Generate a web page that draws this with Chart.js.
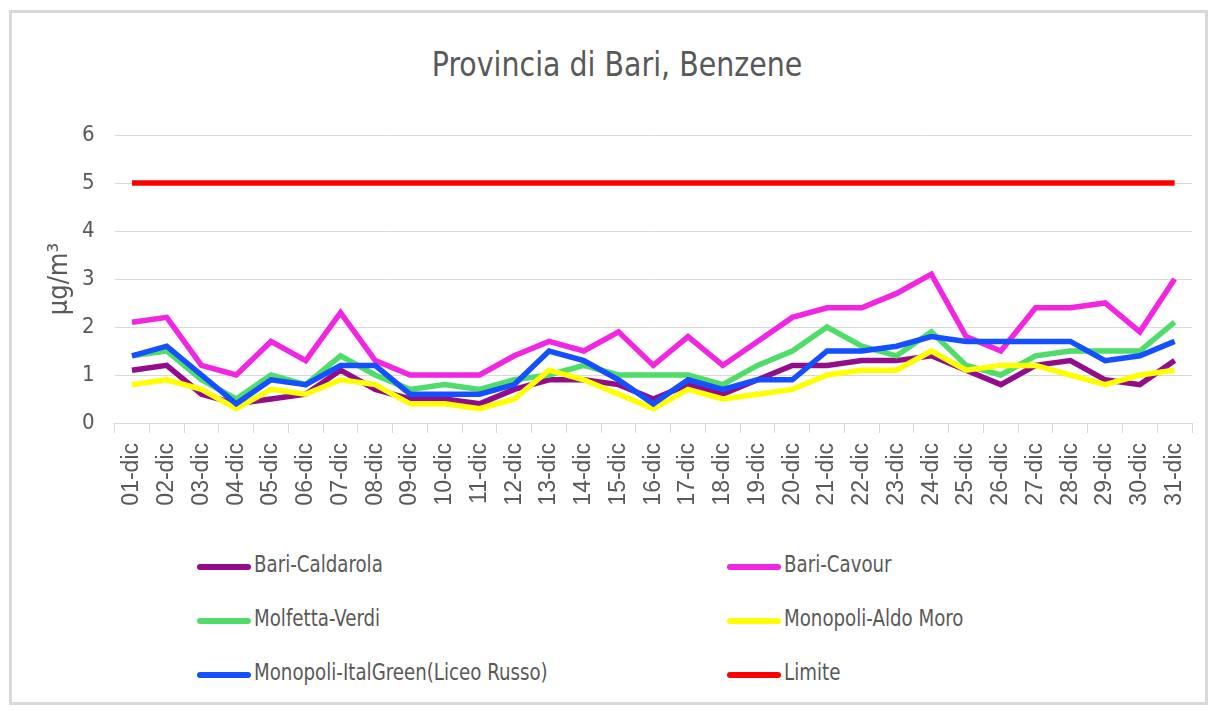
<!DOCTYPE html>
<html>
<head>
<meta charset="utf-8">
<script src="https://cdn.jsdelivr.net/npm/chart.js@4/dist/chart.umd.min.js"></script>
<style>
  body { margin: 0; background: #fff; width: 1214px; height: 711px; overflow: hidden; position: relative; }
  #frame { position: absolute; left: 9px; top: 10px; width: 1193px; height: 689px; border: 3px solid #d9d9d9; }
  #title { position: absolute; left: 10px; top: 44px; width: 1214px; text-align: center;
    font-family: "DejaVu Sans Condensed", sans-serif; font-size: 34px; color: #595959;
    transform: scaleX(0.93); transform-origin: 607px 0; }
  #chart { position: absolute; left: 0; top: 0; }
  .leg { position: absolute; height: 30px; font-family: "DejaVu Sans Condensed", sans-serif;
    font-size: 23px; color: #595959; white-space: nowrap; }
  .leg span.ln { position: absolute; left: 0; top: 13px; width: 54px; height: 6px; border-radius: 3px; }
  .leg span.tx { position: absolute; left: 57px; top: 0; transform: scaleX(0.88); transform-origin: 0 0; }
</style>
</head>
<body>
<div id="frame"></div>
<div id="title">Provincia di Bari, Benzene</div>
<canvas id="chart" width="1214" height="540"></canvas>
<div id="legend"></div>
<script>
// giorni di dicembre
const giorni = ["01-dic","02-dic","03-dic","04-dic","05-dic","06-dic","07-dic","08-dic","09-dic","10-dic",
  "11-dic","12-dic","13-dic","14-dic","15-dic","16-dic","17-dic","18-dic","19-dic","20-dic",
  "21-dic","22-dic","23-dic","24-dic","25-dic","26-dic","27-dic","28-dic","29-dic","30-dic","31-dic"];

const bariCaldarola = [1.1,1.2,0.6,0.4,0.5,0.6,1.1,0.7,0.5,0.5,0.4,0.7,0.9,0.9,0.8,0.5,0.8,0.6,0.9,1.2,1.2,1.3,1.3,1.4,1.1,0.8,1.2,1.3,0.9,0.8,1.3];
const bariCavour = [2.1,2.2,1.2,1.0,1.7,1.3,2.3,1.3,1.0,1.0,1.0,1.4,1.7,1.5,1.9,1.2,1.8,1.2,1.7,2.2,2.4,2.4,2.7,3.1,1.8,1.5,2.4,2.4,2.5,1.9,3.0];
const molfettaVerdi = [1.4,1.5,0.9,0.5,1.0,0.8,1.4,1.0,0.7,0.8,0.7,0.9,1.0,1.2,1.0,1.0,1.0,0.8,1.2,1.5,2.0,1.6,1.4,1.9,1.2,1.0,1.4,1.5,1.5,1.5,2.1];
const monopoliAldoMoro = [0.8,0.9,0.7,0.3,0.7,0.6,0.9,0.8,0.4,0.4,0.3,0.5,1.1,0.9,0.6,0.3,0.7,0.5,0.6,0.7,1.0,1.1,1.1,1.5,1.1,1.2,1.2,1.0,0.8,1.0,1.1];
const monopoliItalGreen = [1.4,1.6,1.0,0.4,0.9,0.8,1.2,1.2,0.6,0.6,0.6,0.8,1.5,1.3,0.9,0.4,0.9,0.7,0.9,0.9,1.5,1.5,1.6,1.8,1.7,1.7,1.7,1.7,1.3,1.4,1.7];
const limite = [5,5,5,5,5,5,5,5,5,5,5,5,5,5,5,5,5,5,5,5,5,5,5,5,5,5,5,5,5,5,5];

const nomi = ["Bari-Caldarola","Bari-Cavour","Molfetta-Verdi","Monopoli-Aldo Moro","Monopoli-ItalGreen(Liceo Russo)","Limite"];
const colori = ["#930c8a","#f226e2","#4fdc68","#ffff00","#1450ff","#ff0000"];
const serie = [bariCaldarola, bariCavour, molfettaVerdi, monopoliAldoMoro, monopoliItalGreen, limite];

const datasets = serie.map((d, i) => ({
  label: nomi[i],
  data: d,
  borderColor: colori[i],
  backgroundColor: colori[i],
  borderWidth: 5.5,
  pointRadius: 0,
  tension: 0,
  fill: false,
  order: serie.length - i // ultime serie sopra
}));

const chart = new Chart(document.getElementById("chart"), {
  type: "line",
  data: { labels: giorni, datasets: datasets },
  options: {
    responsive: false,
    animation: false,
    devicePixelRatio: 1,
    layout: { padding: { left: 12, top: 135, right: 22, bottom: 0 } },
    plugins: { legend: { display: false }, title: { display: false }, tooltip: { enabled: false } },
    scales: {
      x: {
        offset: true,
        grid: { offset: true, drawOnChartArea: false, drawTicks: true, tickLength: 10, color: "#d9d9d9" },
        border: { color: "#d9d9d9" },
        ticks: {
          minRotation: 90, maxRotation: 90, autoSkip: false, padding: 10,
          color: "#595959", font: { family: "'Liberation Sans', sans-serif", size: 23 }
        },
        afterFit: s => { s.height = 117; }
      },
      y: {
        min: 0, max: 6,
        ticks: { stepSize: 1, padding: 20, color: "#595959", font: { family: "'DejaVu Sans Condensed', sans-serif", size: 22 } },
        grid: { color: "#d9d9d9", drawTicks: false },
        border: { display: false },
        title: {
          display: true, text: "µg/m³", color: "#595959",
          font: { family: "'DejaVu Sans Condensed', sans-serif", size: 27 }, padding: { top: 32, bottom: 0 }
        },
        afterFit: s => { s.width = 102.6; }
      }
    }
  }
});

// legenda a due colonne
const legend = document.getElementById("legend");
const colX = [197, 727];
const rowY = [551, 605, 659];
nomi.forEach((n, i) => {
  const div = document.createElement("div");
  div.className = "leg";
  div.style.left = colX[i % 2] + "px";
  div.style.top = rowY[Math.floor(i / 2)] + "px";
  div.innerHTML = '<span class="ln" style="background:' + colori[i] + '"></span><span class="tx">' + n + '</span>';
  legend.appendChild(div);
});
</script>
</body>
</html>
